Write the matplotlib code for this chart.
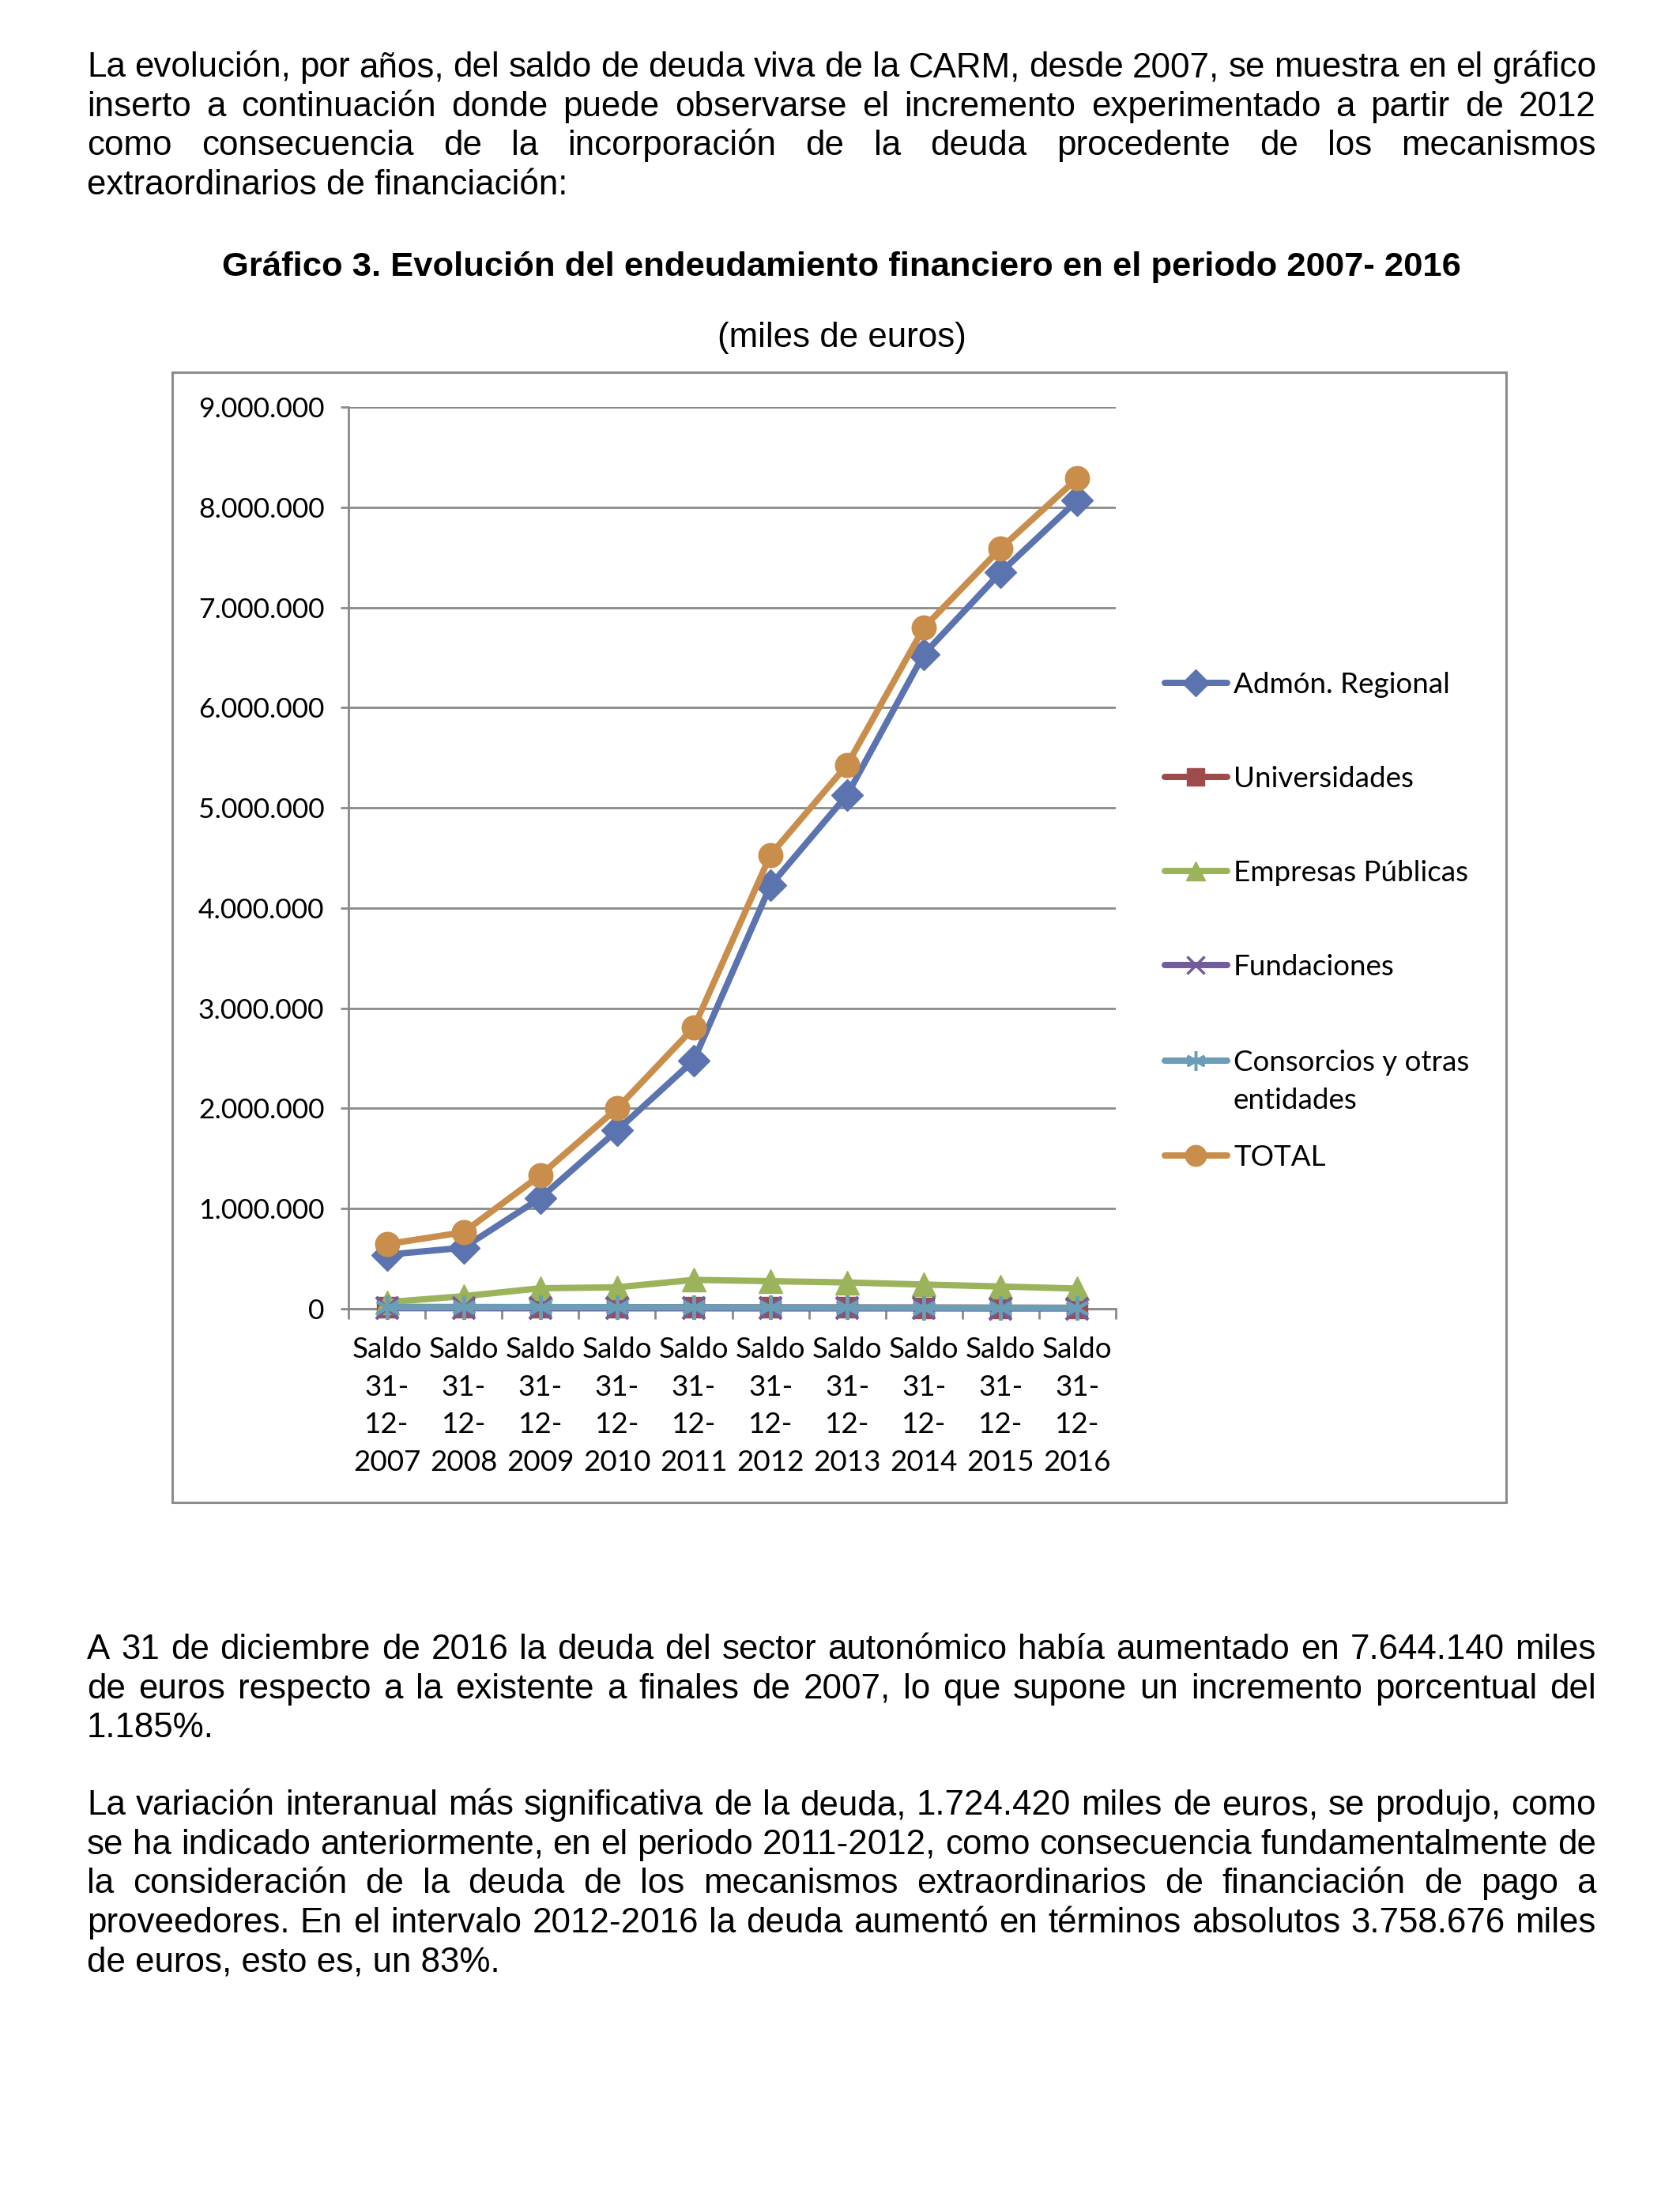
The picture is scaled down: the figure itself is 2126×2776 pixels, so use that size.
import matplotlib
matplotlib.use("Agg")
import matplotlib.pyplot as plt
from matplotlib.lines import Line2D
from matplotlib.patches import Rectangle
from matplotlib.ticker import FuncFormatter, FixedLocator

# ---------------- data ----------------
categories = ["Saldo\n31-\n12-\n2007", "Saldo\n31-\n12-\n2008", "Saldo\n31-\n12-\n2009",
              "Saldo\n31-\n12-\n2010", "Saldo\n31-\n12-\n2011", "Saldo\n31-\n12-\n2012",
              "Saldo\n31-\n12-\n2013", "Saldo\n31-\n12-\n2014", "Saldo\n31-\n12-\n2015",
              "Saldo\n31-\n12-\n2016"]
admon = [540000, 610000, 1105000, 1780000, 2480000, 4225000, 5130000, 6535000, 7350000, 8070000]
universidades = [18000, 17000, 16000, 15000, 14000, 13000, 12000, 11000, 10000, 9000]
empresas = [66000, 126000, 205000, 215000, 289000, 276000, 263000, 242000, 223000, 202000]
fundaciones = [6000, 6000, 5000, 5000, 5000, 4000, 4000, 4000, 3000, 3000]
consorcios = [15000, 15000, 16000, 15000, 14000, 13000, 12000, 11000, 10000, 9000]
total = [645075, 764000, 1333000, 2000000, 2806119, 4530539, 5430000, 6800000, 7590000, 8289215]
series_names = ["Admón. Regional", "Universidades", "Empresas Públicas", "Fundaciones",
                "Consorcios y otras\nentidades", "TOTAL"]
y_ticks = [0, 1000000, 2000000, 3000000, 4000000, 5000000, 6000000, 7000000, 8000000, 9000000]

title = "Gráfico 3. Evolución del endeudamiento financiero en el periodo 2007- 2016"
subtitle = "(miles de euros)"
para_top = ["La evolución, por años, del saldo de deuda viva de la CARM, desde 2007, se muestra en el gráfico",
            "inserto a continuación donde puede observarse el incremento experimentado a partir de 2012",
            "como consecuencia de la incorporación de la deuda procedente de los mecanismos",
            "extraordinarios de financiación:"]
para_b1 = ["A 31 de diciembre de 2016 la deuda del sector autonómico había aumentado en 7.644.140 miles",
           "de euros respecto a la existente a finales de 2007, lo que supone un incremento porcentual del",
           "1.185%."]
para_b2 = ["La variación interanual más significativa de la deuda, 1.724.420 miles de euros, se produjo, como",
           "se ha indicado anteriormente, en el periodo 2011-2012, como consecuencia fundamentalmente de",
           "la consideración de la deuda de los mecanismos extraordinarios de financiación de pago a",
           "proveedores. En el intervalo 2012-2016 la deuda aumentó en términos absolutos 3.758.676 miles",
           "de euros, esto es, un 83%."]

# ---------------- styles ----------------
W, H = 2126, 2776
colors = ["#5B73AF", "#9E4B4B", "#9BB35B", "#735C9B", "#6B9DB6", "#C98E4C"]
markers = ["D", "s", "^", "x", (6, 2, 0), "o"]
msizes = [20, 19, 22, 20, 22, 22]
grid_c = "#8A8A8A"
body_font = "Liberation Sans"
chart_font = "Lato"
body_fs = 31.6
title_fs = 31.3
ytick_fs = 25.5
xtick_fs = 26.5
leg_fs = 26.5

fig = plt.figure(figsize=(W / 100, H / 100), dpi=100)
fig.patch.set_facecolor("white")

L, R, T, B = 441, 1412, 515, 1656
ax = fig.add_axes([L / W, 1 - B / H, (R - L) / W, (B - T) / H])
xs = list(range(len(categories)))
all_series = [admon, universidades, empresas, fundaciones, consorcios, total]
for vals, c, m, ms in zip(all_series, colors, markers, msizes):
    ax.plot(xs, vals, color=c, lw=5.8, marker=m, ms=ms, mfc=c, mec=c,
            mew=3 if m in ("x", (6, 2, 0)) else 1, solid_capstyle="round",
            solid_joinstyle="round", clip_on=False, zorder=3)

ax.set_xlim(-0.5, len(categories) - 0.5)
ax.set_ylim(0, 9000000)
ax.yaxis.set_major_locator(FixedLocator(y_ticks))
ax.yaxis.set_major_formatter(FuncFormatter(lambda v, p: f"{int(v):,}".replace(",", ".")))
ax.set_xticks(xs)
ax.set_xticklabels(categories, fontfamily=chart_font, fontsize=xtick_fs, linespacing=1.55)
ax.xaxis.set_minor_locator(FixedLocator([i - 0.5 for i in range(len(categories) + 1)]))
ax.tick_params(axis="x", which="major", length=0, pad=25)
ax.tick_params(axis="x", which="minor", length=9, width=2, color=grid_c, direction="out")
ax.tick_params(axis="y", which="major", length=7, width=2, color=grid_c, direction="out", pad=15,
               labelsize=ytick_fs)
for lab in ax.get_yticklabels():
    lab.set_fontfamily(chart_font)
ax.grid(axis="y", color=grid_c, lw=2)
ax.set_axisbelow(True)
for s in ["top", "right"]:
    ax.spines[s].set_visible(False)
for s in ["left", "bottom"]:
    ax.spines[s].set_color(grid_c)
    ax.spines[s].set_linewidth(2)

# ---------------- overlay in pixel coords ----------------
ov = fig.add_axes([0, 0, 1, 1], facecolor="none")
ov.set_xlim(0, W)
ov.set_ylim(H, 0)
ov.axis("off")

ov.add_patch(Rectangle((218, 471), 1906 - 218, 1901 - 471, fill=False, ec="#8C8C8C", lw=2.2))

renderer = fig.canvas.get_renderer()


def text_width(s, **kw):
    t = ov.text(0, 0, s, **kw)
    w = t.get_window_extent(renderer).width
    t.remove()
    return w


def draw_para(lines, y0, dy, x0=110, x1=2020):
    kw = dict(fontfamily=body_font, fontsize=body_fs, va="baseline", ha="left")
    for i, line in enumerate(lines):
        y = y0 + i * dy
        if i == len(lines) - 1:
            ov.text(x0, y, line, **kw)
            continue
        words = line.split(" ")
        widths = [text_width(w_, **kw) for w_ in words]
        gap = (x1 - x0 - sum(widths)) / (len(words) - 1)
        x = x0
        for w_, wd in zip(words, widths):
            ov.text(x, y, w_, **kw)
            x += wd + gap


draw_para(para_top, 97, 49.6)
draw_para(para_b1, 2099, 49.6)
draw_para(para_b2, 2296, 49.6)

ov.text(1065, 349, title, fontfamily=body_font, fontsize=title_fs, fontweight="bold",
        ha="center", va="baseline")
ov.text(1065, 439, subtitle, fontfamily=body_font, fontsize=body_fs, ha="center", va="baseline")

# legend
leg_y = [864, 983, 1102, 1221, 1342, 1462]
leg_ms = [17, 16, 17, 16, 18, 19]
for name, c, m, ms, y in zip(series_names, colors, markers, leg_ms, leg_y):
    ov.add_line(Line2D([1474, 1553], [y, y], color=c, lw=5.8, solid_capstyle="round"))
    ov.add_line(Line2D([1513], [y], color=c, lw=0, marker=m, ms=ms, mfc=c, mec=c,
                       mew=2.5 if m in ("x", (6, 2, 0)) else 1))
    for k, part in enumerate(name.split("\n")):
        ov.text(1561, y + 13 + k * 48, part, fontfamily=chart_font, fontsize=leg_fs,
                ha="left", va="baseline")

fig.savefig("out.png", dpi=100)
